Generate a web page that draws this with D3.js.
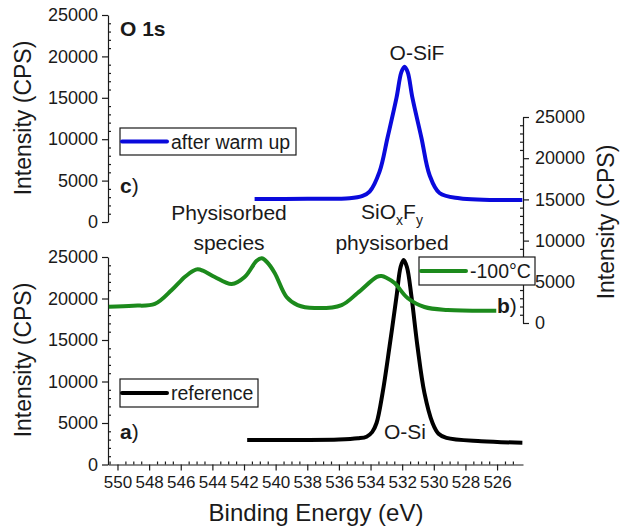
<!DOCTYPE html>
<html>
<head>
<meta charset="utf-8">
<script src="https://cdn.jsdelivr.net/npm/d3@7"></script>
<style>
body { margin: 0; background: #fff; }
text { font-family: "Liberation Sans", Arial, sans-serif; fill: #1a1a1a; }
</style>
</head>
<body>
<script>
// O 1s spectra
let energyTicks = [550, 548, 546, 544, 542, 540, 538, 536, 534, 532, 530, 528, 526];
let intensityTicks = [0, 5000, 10000, 15000, 20000, 25000];

// a) reference (left bottom axis)
let refEnergy = [541.8, 538.5, 536.0, 534.8, 534.25, 533.9, 533.62, 533.24, 532.8, 532.36, 532.1, 531.91, 531.7, 531.41, 531.03, 530.59, 530.08, 529.7, 529.2, 527.0, 524.4];
let refCps    = [2950, 2950, 3000, 3150, 3350, 3900, 5000, 8600, 14200, 20200, 23800, 24650, 23800, 20200, 14200, 8600, 5000, 3700, 3200, 2800, 2630];

// b) -100°C (right axis)
let coldEnergy = [550.55, 549.0, 547.64, 546.57, 545.75, 545.2, 544.93, 544.6, 543.85, 542.78, 541.96, 541.2, 540.88, 540.55, 540.06, 539.31, 538.61, 537.54, 535.83, 534.82, 533.6, 533.3, 533.0, 532.48, 531.66, 530.59, 529.13, 526.05];
let coldCps    = [1980, 2100, 2310, 4000, 5580, 6350, 6520, 6350, 5580, 4730, 5580, 7550, 7850, 7400, 6070, 3160, 2180, 1820, 2180, 3640, 5600, 5700, 5500, 4850, 3030, 1940, 1580, 1490];

// c) after warm up (left top axis)
let warmEnergy = [541.33, 538.0, 535.33, 534.5, 534.06, 533.43, 532.93, 532.36, 532.05, 531.85, 531.65, 531.35, 530.78, 530.27, 529.64, 528.38, 524.4];
let warmCps    = [2780, 2800, 2860, 3150, 3660, 6080, 10150, 14980, 18100, 18760, 18100, 14980, 10150, 5680, 3500, 2860, 2660];

let svg = d3.select('body')
    .append('svg')
        .attr('width', 635)
        .attr('height', 531);

let x  = d3.scaleLinear().domain([550.6, 524.36]).range([108, 523]);
let yA = d3.scaleLinear().domain([0, 25000]).range([464.5, 257]);
let yB = d3.scaleLinear().domain([0, 25000]).range([323, 117]);
let yC = d3.scaleLinear().domain([0, 25000]).range([222, 15]);

function StyleAxis(g, fs) {
    g.selectAll('path, line').attr('stroke', '#1a1a1a').attr('stroke-width', 1.2);
    g.selectAll('text').attr('font-size', fs).attr('fill', '#1a1a1a')
        .attr('font-family', '"Liberation Sans", Arial, sans-serif');
}

function AddYAxis(scale, tx, right) {
    let minor = d3.range(0, 25001, 1000).filter(v => v % 5000 != 0);
    let mk = right ? d3.axisRight : d3.axisLeft;
    let g = svg.append('g').attr('transform', 'translate(' + tx + ',0)');
    g.call(mk(scale).tickValues(intensityTicks).tickFormat(d3.format('d'))
        .tickSize(6).tickSizeOuter(0).tickPadding(right ? 6 : 4));
    g.append('g').call(mk(scale).tickValues(minor).tickSize(-3).tickSizeOuter(0).tickFormat(''))
        .select('.domain').remove();
    StyleAxis(g, 18);
}

// x axis
let gx = svg.append('g').attr('transform', 'translate(0,' + yA(0) + ')');
gx.call(d3.axisBottom(x).tickValues(energyTicks).tickFormat(d3.format('d'))
    .tickSize(6).tickSizeOuter(0).tickPadding(5));
gx.append('g').call(d3.axisBottom(x).tickValues(d3.range(525, 550.6, 0.5).filter(v => v % 2 != 0))
    .tickSize(-3).tickSizeOuter(0).tickFormat(''))
    .select('.domain').remove();
StyleAxis(gx, 17);

AddYAxis(yA, 108, false);
AddYAxis(yC, 108, false);
AddYAxis(yB, 523, true);

function AddCurve(en, cps, yScale, color) {
    let line = d3.line()
        .x((d, i) => x(en[i]))
        .y((d, i) => yScale(cps[i]))
        .curve(d3.curveCatmullRom.alpha(0.5));
    return svg.append('path')
        .attr('d', line(en))
        .attr('fill', 'none')
        .attr('stroke', color)
        .attr('stroke-width', 4)
        .attr('stroke-linejoin', 'round');
}

AddCurve(refEnergy, refCps, yA, '#000000');
AddCurve(coldEnergy, coldCps, yB, '#1c8a1c');
AddCurve(warmEnergy, warmCps, yC, '#0a0adc');

function AddText(tx, ty, s, fs, anchor = 'start', weight = 'normal') {
    return svg.append('text')
        .attr('x', tx).attr('y', ty)
        .attr('font-size', fs)
        .attr('font-weight', weight)
        .attr('text-anchor', anchor)
        .text(s);
}

function AddLegend(bx, by, bw, bh, color, label) {
    svg.append('rect')
        .attr('x', bx).attr('y', by).attr('width', bw).attr('height', bh)
        .attr('fill', 'white').attr('stroke', '#1a1a1a').attr('stroke-width', 1.2);
    svg.append('line')
        .attr('x1', bx + 2).attr('x2', bx + 47)
        .attr('y1', by + bh / 2).attr('y2', by + bh / 2)
        .attr('stroke', color).attr('stroke-width', 4).attr('stroke-linecap', 'round');
    AddText(bx + 51, by + bh / 2 + 7, label, 19.5);
}

function AddPanelLabel(tx, ty, letter) {
    let t = svg.append('text').attr('x', tx).attr('y', ty).attr('font-size', 21);
    t.append('tspan').attr('font-weight', 'bold').text(letter);
    t.append('tspan').text(')');
}

AddLegend(120, 128, 176, 27, '#0a0adc', 'after warm up');
AddLegend(120, 379, 138, 28, '#000000', 'reference');
AddLegend(419, 257, 116, 28, '#1c8a1c', '-100°C');

AddPanelLabel(120, 193, 'c');
AddPanelLabel(120, 439, 'a');
AddPanelLabel(497, 313, 'b');

AddText(120, 36, 'O 1s', 21, 'start', 'bold');
AddText(229, 220, 'Physisorbed', 21, 'middle');
AddText(229, 250, 'species', 21, 'middle');
AddText(417, 60, 'O-SiF', 21, 'middle');
AddText(392, 250, 'physisorbed', 21, 'middle');
AddText(405, 439, 'O-Si', 21, 'middle');

let sio = AddText(392, 219, '', 21, 'middle');
sio.append('tspan').text('SiO');
sio.append('tspan').attr('font-size', 14).attr('dy', 6).text('x');
sio.append('tspan').attr('dy', -6).text('F');
sio.append('tspan').attr('font-size', 14).attr('dy', 6).text('y');

// axis titles
svg.append('text').attr('transform', 'translate(31,118) rotate(-90)')
    .attr('text-anchor', 'middle').attr('font-size', 23).text('Intensity (CPS)');
svg.append('text').attr('transform', 'translate(31,360) rotate(-90)')
    .attr('text-anchor', 'middle').attr('font-size', 23).text('Intensity (CPS)');
svg.append('text').attr('transform', 'translate(614,222) rotate(-90)')
    .attr('text-anchor', 'middle').attr('font-size', 23).text('Intensity (CPS)');
AddText(316, 521, 'Binding Energy (eV)', 24, 'middle');
</script>
</body>
</html>
